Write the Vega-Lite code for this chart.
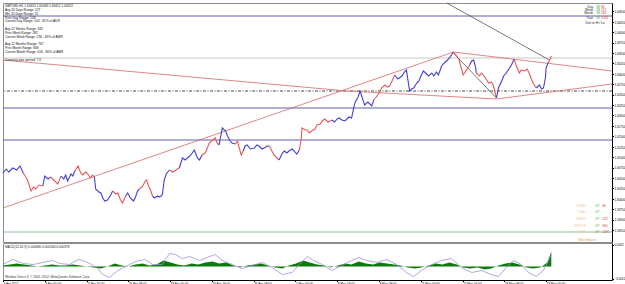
{
"$schema":"https://vega.github.io/schema/vega-lite/v6.json",
"padding":0,
"background":"#ffffff",
"spacing":1,
"bounds":"flush",
"config":{
 "font":"Liberation Sans",
 "view":{"stroke":"#8c8c8c","strokeWidth":1},
 "axis":{"labelFontSize":3.0,"labelColor":"#000000","tickColor":"#000000","domainColor":"#000000","tickSize":1.5,"labelPadding":0.5,"grid":false,"labelOverlap":false,"labelBound":false,"labelFlush":false,"labelFont":"Liberation Sans"}
},
"datasets":{
 "price":[
{"b":0,"p":1.6062,"s":1,"c":"up"},{"b":5,"p":1.60716,"s":1,"c":"up"},{"b":9,"p":1.60644,"s":1,"c":"up"},{"b":15,"p":1.6074,"s":1,"c":"up"},{"b":21,"p":1.60692,"s":1,"c":"up"},{"b":26,"p":1.60788,"s":1,"c":"up"},{"b":31,"p":1.6062,"s":1,"c":"up"},
{"b":31,"p":1.6062,"s":2,"c":"dn"},{"b":35,"p":1.60524,"s":2,"c":"dn"},{"b":38,"p":1.60428,"s":2,"c":"dn"},{"b":43,"p":1.60188,"s":2,"c":"dn"},{"b":47,"p":1.60284,"s":2,"c":"dn"},{"b":50,"p":1.60236,"s":2,"c":"dn"},{"b":55,"p":1.60332,"s":2,"c":"dn"},{"b":61,"p":1.60308,"s":2,"c":"dn"},
{"b":61,"p":1.60308,"s":3,"c":"up"},{"b":64,"p":1.60548,"s":3,"c":"up"},{"b":69,"p":1.60476,"s":3,"c":"up"},{"b":73,"p":1.60524,"s":3,"c":"up"},
{"b":73,"p":1.60524,"s":4,"c":"dn"},{"b":76,"p":1.60476,"s":4,"c":"dn"},{"b":81,"p":1.60404,"s":4,"c":"dn"},{"b":84,"p":1.60356,"s":4,"c":"dn"},{"b":89,"p":1.60548,"s":4,"c":"dn"},
{"b":89,"p":1.60548,"s":5,"c":"up"},{"b":93,"p":1.60476,"s":5,"c":"up"},{"b":96,"p":1.60572,"s":5,"c":"up"},{"b":99,"p":1.60428,"s":5,"c":"up"},{"b":104,"p":1.60596,"s":5,"c":"up"},{"b":107,"p":1.60548,"s":5,"c":"up"},{"b":110,"p":1.60668,"s":5,"c":"up"},
{"b":110,"p":1.60668,"s":6,"c":"dn"},{"b":115,"p":1.60788,"s":6,"c":"dn"},{"b":119,"p":1.6062,"s":6,"c":"dn"},{"b":122,"p":1.60572,"s":6,"c":"dn"},{"b":127,"p":1.60644,"s":6,"c":"dn"},{"b":130,"p":1.60596,"s":6,"c":"dn"},{"b":134,"p":1.605,"s":6,"c":"dn"},{"b":137,"p":1.60572,"s":6,"c":"dn"},{"b":140,"p":1.60524,"s":6,"c":"dn"},
{"b":140,"p":1.60524,"s":7,"c":"up"},{"b":142,"p":1.60236,"s":7,"c":"up"},{"b":147,"p":1.60164,"s":7,"c":"up"},{"b":150,"p":1.6014,"s":7,"c":"up"},{"b":153,"p":1.6002,"s":7,"c":"up"},{"b":156,"p":1.59948,"s":7,"c":"up"},{"b":160,"p":1.59972,"s":7,"c":"up"},{"b":165,"p":1.60092,"s":7,"c":"up"},{"b":168,"p":1.60188,"s":7,"c":"up"},
{"b":168,"p":1.60188,"s":8,"c":"dn"},{"b":173,"p":1.60116,"s":8,"c":"dn"},{"b":176,"p":1.6014,"s":8,"c":"dn"},{"b":180,"p":1.59972,"s":8,"c":"dn"},{"b":183,"p":1.599,"s":8,"c":"dn"},{"b":188,"p":1.60068,"s":8,"c":"dn"},
{"b":188,"p":1.60068,"s":9,"c":"up"},{"b":191,"p":1.6014,"s":9,"c":"up"},{"b":195,"p":1.6002,"s":9,"c":"up"},{"b":200,"p":1.59948,"s":9,"c":"up"},{"b":203,"p":1.60044,"s":9,"c":"up"},{"b":206,"p":1.60188,"s":9,"c":"up"},{"b":209,"p":1.60236,"s":9,"c":"up"},
{"b":209,"p":1.60236,"s":10,"c":"dn"},{"b":214,"p":1.60308,"s":10,"c":"dn"},{"b":218,"p":1.60428,"s":10,"c":"dn"},{"b":220,"p":1.60452,"s":10,"c":"dn"},{"b":223,"p":1.60308,"s":10,"c":"dn"},{"b":226,"p":1.60212,"s":10,"c":"dn"},{"b":229,"p":1.60068,"s":10,"c":"dn"},
{"b":229,"p":1.60068,"s":11,"c":"up"},{"b":232,"p":1.6002,"s":11,"c":"up"},{"b":237,"p":1.60068,"s":11,"c":"up"},{"b":240,"p":1.60044,"s":11,"c":"up"},{"b":244,"p":1.60092,"s":11,"c":"up"},{"b":247,"p":1.60452,"s":11,"c":"up"},{"b":250,"p":1.60596,"s":11,"c":"up"},{"b":255,"p":1.60692,"s":11,"c":"up"},
{"b":255,"p":1.60692,"s":12,"c":"dn"},{"b":260,"p":1.60644,"s":12,"c":"dn"},{"b":263,"p":1.60668,"s":12,"c":"dn"},{"b":267,"p":1.60716,"s":12,"c":"dn"},{"b":270,"p":1.6074,"s":12,"c":"dn"},
{"b":270,"p":1.6074,"s":13,"c":"up"},{"b":275,"p":1.6098,"s":13,"c":"up"},{"b":279,"p":1.60932,"s":13,"c":"up"},{"b":286,"p":1.61028,"s":13,"c":"up"},{"b":290,"p":1.611,"s":13,"c":"up"},{"b":293,"p":1.61172,"s":13,"c":"up"},{"b":298,"p":1.6098,"s":13,"c":"up"},{"b":301,"p":1.60932,"s":13,"c":"up"},{"b":305,"p":1.61052,"s":13,"c":"up"},
{"b":305,"p":1.61052,"s":14,"c":"dn"},{"b":310,"p":1.611,"s":14,"c":"dn"},{"b":313,"p":1.6122,"s":14,"c":"dn"},{"b":316,"p":1.6134,"s":14,"c":"dn"},{"b":321,"p":1.61412,"s":14,"c":"dn"},{"b":325,"p":1.6146,"s":14,"c":"dn"},{"b":328,"p":1.6134,"s":14,"c":"dn"},{"b":331,"p":1.61292,"s":14,"c":"dn"},
{"b":331,"p":1.61292,"s":15,"c":"up"},{"b":336,"p":1.617,"s":15,"c":"up"},{"b":339,"p":1.61652,"s":15,"c":"up"},{"b":341,"p":1.61628,"s":15,"c":"up"},{"b":344,"p":1.61508,"s":15,"c":"up"},{"b":347,"p":1.61412,"s":15,"c":"up"},{"b":351,"p":1.6134,"s":15,"c":"up"},{"b":356,"p":1.61316,"s":15,"c":"up"},
{"b":356,"p":1.61316,"s":16,"c":"dn"},{"b":359,"p":1.61388,"s":16,"c":"dn"},{"b":362,"p":1.6122,"s":16,"c":"dn"},{"b":365,"p":1.61052,"s":16,"c":"dn"},{"b":368,"p":1.61148,"s":16,"c":"dn"},
{"b":368,"p":1.61148,"s":17,"c":"up"},{"b":371,"p":1.61268,"s":17,"c":"up"},{"b":374,"p":1.61292,"s":17,"c":"up"},{"b":379,"p":1.61196,"s":17,"c":"up"},{"b":385,"p":1.6122,"s":17,"c":"up"},{"b":389,"p":1.61292,"s":17,"c":"up"},{"b":392,"p":1.61268,"s":17,"c":"up"},{"b":397,"p":1.61196,"s":17,"c":"up"},{"b":400,"p":1.6122,"s":17,"c":"up"},{"b":405,"p":1.61268,"s":17,"c":"up"},{"b":408,"p":1.61268,"s":17,"c":"up"},
{"b":408,"p":1.61268,"s":18,"c":"dn"},{"b":412,"p":1.61148,"s":18,"c":"dn"},{"b":415,"p":1.61052,"s":18,"c":"dn"},{"b":420,"p":1.6098,"s":18,"c":"dn"},{"b":423,"p":1.60932,"s":18,"c":"dn"},
{"b":423,"p":1.60932,"s":19,"c":"up"},{"b":428,"p":1.611,"s":19,"c":"up"},{"b":431,"p":1.61148,"s":19,"c":"up"},{"b":435,"p":1.611,"s":19,"c":"up"},{"b":438,"p":1.61148,"s":19,"c":"up"},{"b":443,"p":1.61196,"s":19,"c":"up"},{"b":446,"p":1.61148,"s":19,"c":"up"},{"b":450,"p":1.61076,"s":19,"c":"up"},{"b":454,"p":1.61172,"s":19,"c":"up"},
{"b":454,"p":1.61172,"s":20,"c":"dn"},{"b":457,"p":1.6146,"s":20,"c":"dn"},{"b":458,"p":1.617,"s":20,"c":"dn"},{"b":463,"p":1.61652,"s":20,"c":"dn"},{"b":466,"p":1.61652,"s":20,"c":"dn"},{"b":469,"p":1.6158,"s":20,"c":"dn"},{"b":473,"p":1.61628,"s":20,"c":"dn"},{"b":478,"p":1.61676,"s":20,"c":"dn"},{"b":481,"p":1.61772,"s":20,"c":"dn"},{"b":486,"p":1.61796,"s":20,"c":"dn"},{"b":489,"p":1.61868,"s":20,"c":"dn"},{"b":493,"p":1.61916,"s":20,"c":"dn"},{"b":498,"p":1.61844,"s":20,"c":"dn"},{"b":501,"p":1.61868,"s":20,"c":"dn"},{"b":504,"p":1.61892,"s":20,"c":"dn"},
{"b":504,"p":1.61892,"s":21,"c":"up"},{"b":508,"p":1.61844,"s":21,"c":"up"},{"b":512,"p":1.61916,"s":21,"c":"up"},{"b":515,"p":1.6194,"s":21,"c":"up"},{"b":519,"p":1.61892,"s":21,"c":"up"},{"b":524,"p":1.61868,"s":21,"c":"up"},{"b":530,"p":1.61964,"s":21,"c":"up"},{"b":534,"p":1.6194,"s":21,"c":"up"},{"b":539,"p":1.623,"s":21,"c":"up"},{"b":544,"p":1.62444,"s":21,"c":"up"},{"b":547,"p":1.62588,"s":21,"c":"up"},{"b":551,"p":1.62396,"s":21,"c":"up"},{"b":554,"p":1.62252,"s":21,"c":"up"},{"b":559,"p":1.62324,"s":21,"c":"up"},{"b":565,"p":1.62228,"s":21,"c":"up"},{"b":568,"p":1.62372,"s":21,"c":"up"},
{"b":568,"p":1.62372,"s":22,"c":"dn"},{"b":573,"p":1.62468,"s":22,"c":"dn"},{"b":577,"p":1.62564,"s":22,"c":"dn"},{"b":580,"p":1.6266,"s":22,"c":"dn"},{"b":585,"p":1.62732,"s":22,"c":"dn"},{"b":589,"p":1.62684,"s":22,"c":"dn"},{"b":592,"p":1.62708,"s":22,"c":"dn"},{"b":596,"p":1.62828,"s":22,"c":"dn"},{"b":600,"p":1.62972,"s":22,"c":"dn"},
{"b":600,"p":1.62972,"s":23,"c":"up"},{"b":605,"p":1.62876,"s":23,"c":"up"},{"b":611,"p":1.62948,"s":23,"c":"up"},{"b":615,"p":1.63044,"s":23,"c":"up"},{"b":618,"p":1.63092,"s":23,"c":"up"},{"b":623,"p":1.62588,"s":23,"c":"up"},{"b":626,"p":1.62636,"s":23,"c":"up"},{"b":629,"p":1.6266,"s":23,"c":"up"},{"b":634,"p":1.6278,"s":23,"c":"up"},{"b":637,"p":1.62828,"s":23,"c":"up"},{"b":641,"p":1.62972,"s":23,"c":"up"},{"b":644,"p":1.63068,"s":23,"c":"up"},{"b":649,"p":1.62996,"s":23,"c":"up"},{"b":652,"p":1.62948,"s":23,"c":"up"},{"b":657,"p":1.6302,"s":23,"c":"up"},{"b":660,"p":1.62948,"s":23,"c":"up"},{"b":664,"p":1.63044,"s":23,"c":"up"},{"b":667,"p":1.62972,"s":23,"c":"up"},{"b":672,"p":1.63188,"s":23,"c":"up"},{"b":676,"p":1.6326,"s":23,"c":"up"},{"b":681,"p":1.63332,"s":23,"c":"up"},{"b":684,"p":1.6338,"s":23,"c":"up"},{"b":689,"p":1.635,"s":23,"c":"up"},{"b":690,"p":1.63524,"s":23,"c":"up"},
{"b":690,"p":1.63524,"s":24,"c":"dn"},{"b":695,"p":1.63428,"s":24,"c":"dn"},{"b":699,"p":1.63332,"s":24,"c":"dn"},{"b":702,"p":1.6314,"s":24,"c":"dn"},{"b":705,"p":1.62972,"s":24,"c":"dn"},{"b":710,"p":1.63092,"s":24,"c":"dn"},{"b":715,"p":1.63212,"s":24,"c":"dn"},
{"b":715,"p":1.63212,"s":25,"c":"up"},{"b":718,"p":1.63308,"s":25,"c":"up"},{"b":721,"p":1.63332,"s":25,"c":"up"},{"b":724,"p":1.63164,"s":25,"c":"up"},{"b":725,"p":1.6302,"s":25,"c":"up"},
{"b":725,"p":1.6302,"s":26,"c":"dn"},{"b":730,"p":1.62948,"s":26,"c":"dn"},{"b":733,"p":1.6302,"s":26,"c":"dn"},{"b":736,"p":1.62972,"s":26,"c":"dn"},{"b":741,"p":1.62852,"s":26,"c":"dn"},{"b":744,"p":1.6278,"s":26,"c":"dn"},{"b":748,"p":1.62804,"s":26,"c":"dn"},{"b":751,"p":1.62732,"s":26,"c":"dn"},{"b":754,"p":1.6254,"s":26,"c":"dn"},{"b":756,"p":1.6242,"s":26,"c":"dn"},
{"b":756,"p":1.6242,"s":27,"c":"up"},{"b":759,"p":1.6266,"s":27,"c":"up"},{"b":764,"p":1.62828,"s":27,"c":"up"},{"b":767,"p":1.62948,"s":27,"c":"up"},{"b":771,"p":1.6302,"s":27,"c":"up"},{"b":774,"p":1.63092,"s":27,"c":"up"},{"b":779,"p":1.63212,"s":27,"c":"up"},{"b":783,"p":1.63356,"s":27,"c":"up"},
{"b":783,"p":1.63356,"s":28,"c":"dn"},{"b":786,"p":1.63212,"s":28,"c":"dn"},{"b":791,"p":1.6302,"s":28,"c":"dn"},{"b":794,"p":1.63092,"s":28,"c":"dn"},{"b":799,"p":1.63068,"s":28,"c":"dn"},{"b":803,"p":1.63116,"s":28,"c":"dn"},{"b":806,"p":1.6302,"s":28,"c":"dn"},{"b":809,"p":1.629,"s":28,"c":"dn"},{"b":812,"p":1.6278,"s":28,"c":"dn"},{"b":817,"p":1.6266,"s":28,"c":"dn"},
{"b":817,"p":1.6266,"s":29,"c":"up"},{"b":820,"p":1.62708,"s":29,"c":"up"},{"b":822,"p":1.62732,"s":29,"c":"up"},{"b":825,"p":1.62636,"s":29,"c":"up"},{"b":828,"p":1.6266,"s":29,"c":"up"},{"b":831,"p":1.629,"s":29,"c":"up"},{"b":832,"p":1.6314,"s":29,"c":"up"},{"b":835,"p":1.6326,"s":29,"c":"up"},
{"b":835,"p":1.6326,"s":30,"c":"dn"},{"b":837,"p":1.63308,"s":30,"c":"dn"},{"b":840,"p":1.63428,"s":30,"c":"dn"}
 ],
 "levels":[
  {"p":1.64388,"k":"navy"},{"p":1.6338,"k":"gray"},{"p":1.62588,"k":"dash"},{"p":1.6218,"k":"navy"},{"p":1.61412,"k":"navy"},{"p":1.59204,"k":"green"}
 ],
 "tags":[
  {"p":1.64388,"k":"navy"},{"p":1.63428,"k":"bid"},{"p":1.62588,"k":"navy"},{"p":1.6218,"k":"navy"},{"p":1.61412,"k":"navy"},{"p":1.59204,"k":"green"}
 ],
 "trend":[
  {"id":"t1","k":"red","b":0,"p":1.63332},{"id":"t1","k":"red","b":527,"p":1.62588},{"id":"t1","k":"red","b":756,"p":1.62396},{"id":"t1","k":"red","b":933,"p":1.62756},
  {"id":"t2","k":"red","b":0,"p":1.5978},{"id":"t2","k":"red","b":690,"p":1.63524},
  {"id":"t3","k":"red","b":690,"p":1.63524},{"id":"t3","k":"red","b":933,"p":1.63068},
  {"id":"t4","k":"dark","b":690,"p":1.635},{"id":"t4","k":"dark","b":756,"p":1.6242},
  {"id":"t5","k":"dark","b":680,"p":1.647},{"id":"t5","k":"dark","b":837,"p":1.63332}
 ],
 "notes":[
  {"g":"info","b":3,"p":1.64621,"t":"GBPUSD,H1  1.63425 1.63449 1.63412 1.63422"},
  {"g":"info","b":3,"p":1.64525,"t":"Avg 20 Days Range: 127"},
  {"g":"info","b":3,"p":1.64443,"t":"Min 20 Days Range: 51"},
  {"g":"info","b":3,"p":1.64347,"t":"Prev Day Range: 108"},
  {"g":"info","b":3,"p":1.64261,"t":"Current Day Range: 103 - 81% of ADR"},
  {"g":"info","b":3,"p":1.64076,"t":"Avg 12 Weeks Range: 343"},
  {"g":"info","b":3,"p":1.6398,"t":"Prev Week Range: 282"},
  {"g":"info","b":3,"p":1.63891,"t":"Current Week Range: 236 - 69% of AWR"},
  {"g":"info","b":3,"p":1.63709,"t":"Avg 12 Months Range: 767"},
  {"g":"info","b":3,"p":1.6362,"t":"Prev Month Range: 668"},
  {"g":"info","b":3,"p":1.63524,"t":"Current Month Range: 616 - 80% of AMR"},
  {"g":"info","b":3,"p":1.63325,"t":"Currency pair spread: 7.0"},
  {"g":"name","b":904,"p":1.64611,"t":"Day"},
  {"g":"name","b":904,"p":1.64539,"t":"Week"},
  {"g":"name","b":904,"p":1.64472,"t":"Month"},
  {"g":"name","b":904,"p":1.6434,"t":"Year"},
  {"g":"gnum","b":909,"p":1.64611,"t":"18"},
  {"g":"gnum","b":909,"p":1.64539,"t":"18"},
  {"g":"gnum","b":909,"p":1.64472,"t":"18"},
  {"g":"gnum","b":909,"p":1.6434,"t":"20"},
  {"g":"rnum","b":916,"p":1.64611,"t":"86"},
  {"g":"rnum","b":916,"p":1.64539,"t":"219"},
  {"g":"rnum","b":916,"p":1.64472,"t":"584"},
  {"g":"rnum","b":916,"p":1.6434,"t":"1090"},
  {"g":"dist","b":907,"p":1.6422,"t":"Dist to Hi / Lo"},
  {"g":"mlab","b":893,"p":1.59828,"t":"TODAY"},
  {"g":"mlab","b":893,"p":1.59684,"t":"Y DAY"},
  {"g":"mlab","b":893,"p":1.59516,"t":"WEEK"},
  {"g":"mlab","b":893,"p":1.59348,"t":"MONTH"},
  {"g":"mlab","b":893,"p":1.59204,"t":"YEAR"},
  {"g":"up","b":907,"p":1.59828,"t":"UP"},
  {"g":"up","b":907,"p":1.59684,"t":"UP"},
  {"g":"up","b":907,"p":1.59516,"t":"UP"},
  {"g":"up","b":907,"p":1.59348,"t":"UP"},
  {"g":"up","b":907,"p":1.59204,"t":"UP"},
  {"g":"rnum","b":918,"p":1.59828,"t":"86"},
  {"g":"rnum","b":918,"p":1.59516,"t":"219"},
  {"g":"rnum","b":918,"p":1.59348,"t":"584"},
  {"g":"rnum","b":918,"p":1.59204,"t":"1090"},
  {"g":"mm","b":895,"p":1.59012,"t":"Main Moves"}
 ],
 "hist":[
  {"b":0,"h":0.0001},{"b":11,"h":0.0002},{"b":21,"h":0.0003},{"b":32,"h":0.0002},{"b":43,"h":0.0001},{"b":53,"h":0},{"b":64,"h":0.0001},{"b":75,"h":0.0002},{"b":86,"h":0.0001},{"b":96,"h":0.0001},{"b":107,"h":0.0002},{"b":118,"h":0.0001},{"b":128,"h":0},{"b":139,"h":-0.0001},{"b":150,"h":-0.0002},{"b":160,"h":0},{"b":171,"h":0.0003},{"b":182,"h":0.0001},{"b":192,"h":0},{"b":203,"h":0.0002},{"b":214,"h":0.0003},{"b":224,"h":0.0001},{"b":235,"h":0.0002},{"b":246,"h":0.0006},{"b":257,"h":0.0004},{"b":267,"h":0.0002},{"b":278,"h":0.0001},{"b":289,"h":0.0003},{"b":299,"h":0.0002},{"b":310,"h":0.0004},{"b":321,"h":0.0005},{"b":331,"h":0.0003},{"b":342,"h":0.0004},{"b":353,"h":0.0001},{"b":363,"h":-0.0001},{"b":374,"h":0.0001},{"b":385,"h":0.0002},{"b":395,"h":0.0003},{"b":406,"h":0.0001},{"b":417,"h":-0.0001},{"b":428,"h":-0.0002},{"b":438,"h":0.0001},{"b":449,"h":0.0003},{"b":460,"h":0.0006},{"b":470,"h":0.0004},{"b":481,"h":0.0002},{"b":492,"h":0.0001},{"b":502,"h":-0.0001},{"b":513,"h":0.0001},{"b":524,"h":0.0003},{"b":534,"h":0.0002},{"b":545,"h":0.0005},{"b":556,"h":0.0003},{"b":567,"h":0.0002},{"b":577,"h":0.0004},{"b":588,"h":0.0003},{"b":599,"h":0.0002},{"b":609,"h":0.0001},{"b":620,"h":-0.0001},{"b":631,"h":-0.0002},{"b":641,"h":-0.0001},{"b":652,"h":0.0001},{"b":663,"h":0.0003},{"b":673,"h":0.0002},{"b":684,"h":0.0004},{"b":695,"h":0.0002},{"b":705,"h":-0.0001},{"b":716,"h":-0.0002},{"b":727,"h":-0.0001},{"b":738,"h":-0.0003},{"b":748,"h":-0.0002},{"b":759,"h":0.0001},{"b":770,"h":0.0003},{"b":780,"h":0.0004},{"b":791,"h":0.0002},{"b":802,"h":-0.0001},{"b":812,"h":-0.0002},{"b":823,"h":-0.0001},{"b":834,"h":0.0004},{"b":840,"h":0.0015}
 ],
 "sig":[
  {"b":0,"v":0.0002},{"b":15,"v":0.0007},{"b":31,"v":0.0003},{"b":46,"v":0.0002},{"b":61,"v":0.0004},{"b":76,"v":0.0006},{"b":87,"v":0.0003},{"b":102,"v":0.0002},{"b":115,"v":0.0007},{"b":122,"v":0.0006},{"b":133,"v":0.0003},{"b":145,"v":-0.0002},{"b":153,"v":-0.0008},{"b":163,"v":-0.0011},{"b":176,"v":-0.0004},{"b":194,"v":0.0002},{"b":203,"v":0.0005},{"b":218,"v":0.0007},{"b":229,"v":0.0002},{"b":244,"v":0.0002},{"b":255,"v":0.0013},{"b":264,"v":0.0012},{"b":275,"v":0.0008},{"b":286,"v":0.001},{"b":301,"v":0.0006},{"b":313,"v":0.0009},{"b":325,"v":0.0012},{"b":336,"v":0.0006},{"b":351,"v":0.0002},{"b":366,"v":-0.0002},{"b":382,"v":0.0001},{"b":397,"v":0.0004},{"b":412,"v":-0.0001},{"b":428,"v":-0.0008},{"b":443,"v":-0.0006},{"b":454,"v":0.0002},{"b":466,"v":0.001},{"b":476,"v":0.0006},{"b":489,"v":0.0002},{"b":504,"v":-0.0004},{"b":519,"v":0.0001},{"b":534,"v":0.0006},{"b":545,"v":0.0009},{"b":557,"v":0.0006},{"b":573,"v":0.0004},{"b":588,"v":0.0007},{"b":603,"v":0.0002},{"b":618,"v":-0.0006},{"b":629,"v":-0.001},{"b":641,"v":-0.0004},{"b":657,"v":0.0002},{"b":672,"v":0.0006},{"b":687,"v":0.0008},{"b":702,"v":-0.0001},{"b":718,"v":-0.0006},{"b":733,"v":-0.0004},{"b":748,"v":-0.0008},{"b":759,"v":-0.001},{"b":771,"v":-0.0001},{"b":782,"v":0.0006},{"b":794,"v":0.0002},{"b":805,"v":-0.0006},{"b":817,"v":-0.001},{"b":828,"v":-0.0004},{"b":840,"v":0.0012}
 ],
 "mnotes":[
  {"g":"lab","b":3,"v":0.00195,"t":"MACD(12,26,9) 0.000680 0.000304 0.000376"},
  {"g":"copy","b":3,"v":-0.00105,"t":"Windsor Direct 4, © 2001-2012, MetaQuotes Software Corp."}
 ]
},
"vconcat":[
 {
  "width":609,"height":239,
  "resolve":{"scale":{"color":"independent"}},
  "encoding":{
   "x":{"field":"b","type":"quantitative","scale":{"domain":[0,933],"nice":false,"zero":false},"axis":null},
   "y":{"field":"p","type":"quantitative","scale":{"domain":[1.58964,1.647],"nice":false,"zero":false},
        "axis":{"orient":"right","title":null,"format":".5f","values":[1.5925,1.595,1.5975,1.6,1.6025,1.605,1.6075,1.61,1.6125,1.615,1.6175,1.62,1.6225,1.625,1.6275,1.63,1.6325,1.635,1.6375,1.64,1.6425,1.645]}}
  },
  "layer":[
   {"data":{"name":"levels"},"transform":[{"filter":"datum.k=='navy'"}],"mark":{"type":"rule","color":"#4d4da6","strokeWidth":0.9},"encoding":{"x":null}},
   {"data":{"name":"levels"},"transform":[{"filter":"datum.k=='gray'"}],"mark":{"type":"rule","color":"#c2c2c2","strokeWidth":0.9},"encoding":{"x":null}},
   {"data":{"name":"levels"},"transform":[{"filter":"datum.k=='dash'"}],"mark":{"type":"rule","color":"#333333","strokeWidth":0.9,"strokeDash":[3,1.5,1,1.5]},"encoding":{"x":null}},
   {"data":{"name":"levels"},"transform":[{"filter":"datum.k=='green'"}],"mark":{"type":"rule","color":"#86b386","strokeWidth":0.9},"encoding":{"x":null}},
   {"data":{"name":"trend"},"mark":{"type":"line","strokeWidth":0.8},
    "encoding":{"detail":{"field":"id"},"color":{"field":"k","type":"nominal","scale":{"domain":["red","dark"],"range":["#d46a6a","#555555"]},"legend":null}}},
   {"data":{"name":"price"},"mark":{"type":"line","strokeWidth":1.1},
    "encoding":{"detail":{"field":"s"},"color":{"field":"c","type":"nominal","scale":{"domain":["up","dn"],"range":["#4141cc","#e25a5a"]},"legend":null}}},
   {"data":{"name":"tags"},"mark":{"type":"tick","orient":"horizontal","size":12,"thickness":4.2},
    "encoding":{"x":{"datum":946,"type":"quantitative"},"color":{"field":"k","type":"nominal","scale":{"domain":["navy","bid","green"],"range":["#1f1f80","#000000","#1e8c1e"]},"legend":null}}},
   {"data":{"name":"tags"},"mark":{"type":"text","align":"left","baseline":"middle","fontSize":3.0,"color":"#ffffff"},
    "encoding":{"x":{"datum":937,"type":"quantitative"},"text":{"field":"p","type":"quantitative","format":".5f"}}},
   {"data":{"name":"notes"},"transform":[{"filter":"datum.g=='info'||datum.g=='gnum'||datum.g=='rnum'||datum.g=='up'"}],
    "mark":{"type":"text","align":"left","baseline":"middle","fontSize":3.2},
    "encoding":{"text":{"field":"t"},"color":{"field":"g","type":"nominal","scale":{"domain":["info","gnum","rnum","up"],"range":["#111111","#2a9d2a","#d64545","#4fc84f"]},"legend":null}}},
   {"data":{"name":"notes"},"transform":[{"filter":"datum.g=='name'||datum.g=='mlab'"}],
    "mark":{"type":"text","align":"right","baseline":"middle","fontSize":3.2},
    "encoding":{"text":{"field":"t"},"color":{"field":"g","type":"nominal","scale":{"domain":["name","mlab"],"range":["#222222","#f2c6a0"]},"legend":null}}},
   {"data":{"name":"notes"},"transform":[{"filter":"datum.g=='dist'||datum.g=='mm'"}],
    "mark":{"type":"text","align":"center","baseline":"middle","fontSize":3.2},
    "encoding":{"text":{"field":"t"},"color":{"field":"g","type":"nominal","scale":{"domain":["dist","mm"],"range":["#222222","#e6a23c"]},"legend":null}}}
  ]
 },
 {
  "width":609,"height":37,
  "resolve":{"scale":{"color":"independent"}},
  "layer":[
   {"data":{"name":"hist"},"mark":{"type":"area","color":"#0e7a0e"},
    "encoding":{
     "x":{"field":"b","type":"quantitative","scale":{"domain":[0,933],"nice":false,"zero":false},
          "axis":{"orient":"bottom","title":null,"values":[0,32,64,96,128,160,192,224,256,288,320,352,384,416,448,480,512,544,576,608,640,672,704,736,768,800,832],
                  "labelAlign":"left","labelFontSize":3.1,"labelPadding":0.5,
                  "labelExpr":"['4 Apr 2012','5 Apr 16:00','9 Apr 00:00','10 Apr 08:00','11 Apr 16:00','13 Apr 00:00','16 Apr 08:00','17 Apr 16:00','19 Apr 00:00','20 Apr 08:00','23 Apr 16:00','25 Apr 00:00','26 Apr 08:00','27 Apr 16:00','1 May 00:00','2 May 08:00','3 May 16:00','7 May 00:00','8 May 08:00','9 May 16:00','11 May 00:00','14 May 08:00','15 May 16:00','17 May 00:00','18 May 08:00','21 May 16:00','23 May 00:00'][round(datum.value/32)]"}},
     "y":{"field":"h","type":"quantitative","scale":{"domain":[-0.00135,0.00235],"nice":false,"zero":false},
          "axis":{"orient":"right","title":null,"values":[-0.0012,0,0.0022],"labelExpr":"datum.value==0?'0.00':format(datum.value,'.4f')"}},
     "y2":{"datum":0}
    }},
   {"data":{"name":"sig"},"mark":{"type":"line","color":"#9d8fd6","strokeWidth":0.8},
    "encoding":{"x":{"field":"b","type":"quantitative"},"y":{"field":"v","type":"quantitative"}}},
   {"data":{"name":"mnotes"},"mark":{"type":"text","align":"left","baseline":"middle","fontSize":3.2},
    "encoding":{"x":{"field":"b","type":"quantitative"},"y":{"field":"v","type":"quantitative"},"text":{"field":"t"},
     "color":{"field":"g","type":"nominal","scale":{"domain":["lab","copy"],"range":["#222222","#333333"]},"legend":null}}}
  ]
 }
]
}
